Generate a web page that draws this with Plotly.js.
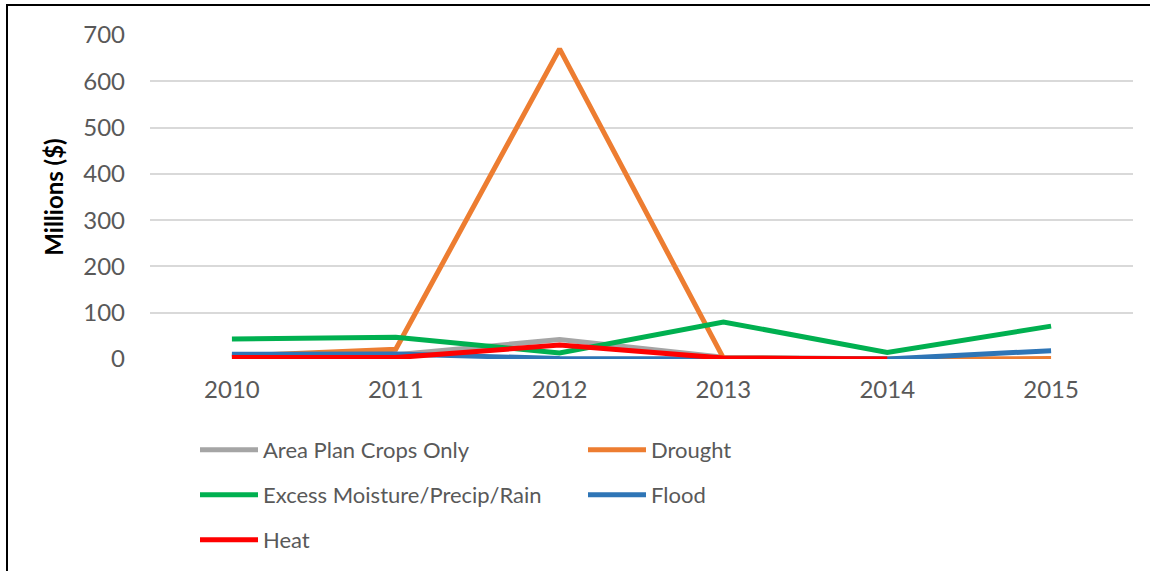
<!DOCTYPE html>
<html>
<head>
<meta charset="utf-8">
<script src="https://cdn.plot.ly/plotly-3.0.1.min.js"></script>
<style>
  html, body { margin: 0; padding: 0; background: #ffffff; }
  #wrap { position: relative; width: 1150px; height: 571px; overflow: hidden; }
  #chart { position: absolute; left: 0; top: 0; width: 1150px; height: 571px; }
  #frame { position: absolute; left: 6px; top: 4px; width: 1150px; height: 600px;
           border-left: 2px solid #000; border-top: 2px solid #000; pointer-events: none; }
</style>
</head>
<body>
<div id="wrap">
  <div id="chart"></div>
  <div id="frame"></div>
</div>
<script>
// Crop losses by cause of loss, millions of dollars
const years = ['2010', '2011', '2012', '2013', '2014', '2015'];

const areaPlanCropsOnly = [4, 9, 42, 4, 0, null];
const drought = [6, 21, 670, 2, 0, 1];
const excessMoisture = [43, 47, 13, 80, 14, 71];
const flood = [10, 11, 1, 0, 0, 18];
const heat = [3, 3, 30, 2, 0, null];

const yTicks = [0, 100, 200, 300, 400, 500, 600, 700];

const FONT = 'Lato, "Noto Sans", sans-serif';

function series(name, values, color, legendId) {
  return {
    type: 'scatter',
    mode: 'lines',
    x: years,
    y: values,
    name: name,
    legend: legendId,
    connectgaps: false,
    line: { color: color, width: 5 },
    hoverinfo: 'x+y+name'
  };
}

const traces = [
  series('Area Plan Crops Only', areaPlanCropsOnly, '#A5A5A5', 'legend'),
  series('Drought', drought, '#ED7D31', 'legend'),
  series('Excess Moisture/Precip/Rain', excessMoisture, '#00B050', 'legend2'),
  series('Flood', flood, '#2E75B6', 'legend2'),
  series('Heat', heat, '#FF0000', 'legend3')
];

function legendRow(yPos) {
  return {
    orientation: 'h',
    xref: 'container',
    yref: 'container',
    x: 195 / 1150,
    y: yPos,
    xanchor: 'left',
    yanchor: 'middle',
    entrywidth: 315,
    entrywidthmode: 'pixels',
    itemwidth: 58,
    bgcolor: 'rgba(0,0,0,0)',
    borderwidth: 0,
    font: { family: FONT, size: 22, color: '#595959' },
    itemclick: false,
    itemdoubleclick: false
  };
}

const layout = {
  width: 1150,
  height: 571,
  margin: { l: 150, r: 17, t: 35, b: 212 },
  paper_bgcolor: '#ffffff',
  plot_bgcolor: '#ffffff',
  font: { family: FONT, color: '#595959' },
  showlegend: true,
  legend: legendRow(1 - 450 / 571),
  legend2: legendRow(1 - 495 / 571),
  legend3: legendRow(1 - 540 / 571),
  xaxis: {
    type: 'category',
    range: [-0.5, 5.5],
    showgrid: false,
    zeroline: false,
    showline: false,
    ticks: '',
    ticklabelstandoff: 14,
    tickfont: { family: FONT, size: 24, color: '#595959' },
    fixedrange: true
  },
  yaxis: {
    range: [0, 700],
    tickvals: yTicks,
    ticktext: yTicks.map(String),
    showgrid: true,
    gridcolor: '#D9D9D9',
    gridwidth: 1.5,
    zeroline: false,
    showline: false,
    ticks: '',
    ticklabelstandoff: 24,
    tickfont: { family: FONT, size: 24, color: '#595959' },
    title: {
      text: '<b>Millions ($)</b>',
      font: { family: FONT, size: 24, color: '#000000' },
      standoff: 12
    },
    fixedrange: true
  }
};

Plotly.newPlot('chart', traces, layout, { displayModeBar: false });
</script>
</body>
</html>
